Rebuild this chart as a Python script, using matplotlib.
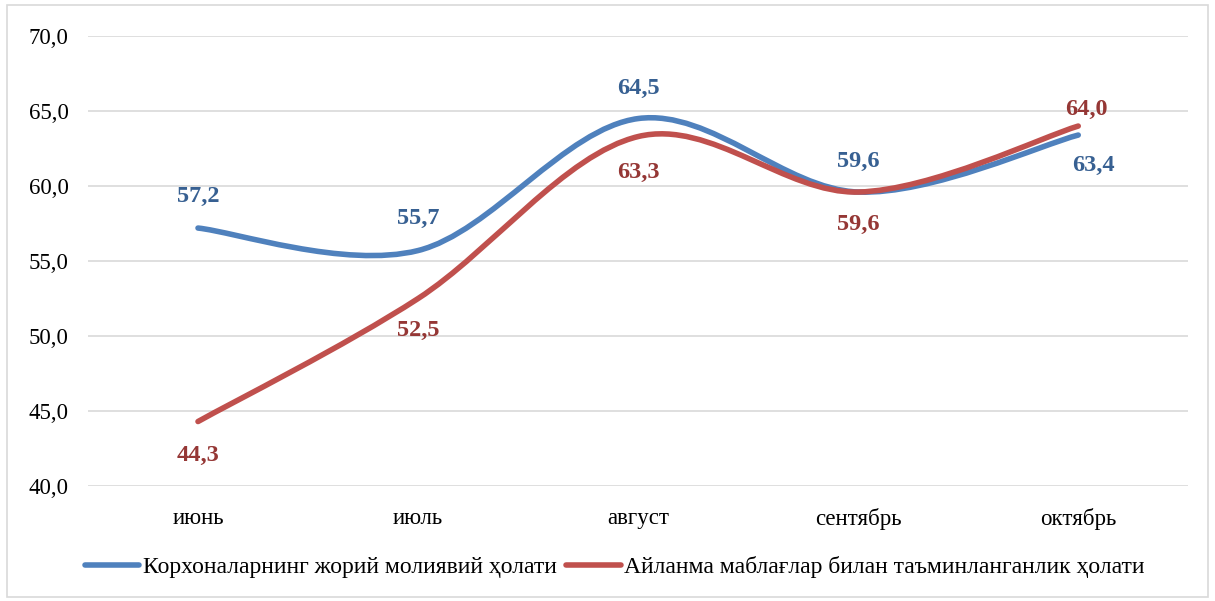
import matplotlib
matplotlib.use("Agg")
import matplotlib.pyplot as plt
from matplotlib.path import Path
from matplotlib.patches import PathPatch, Rectangle
from matplotlib.lines import Line2D
import numpy as np

# ойлар ва қийматлар
oylar = ["июнь", "июль", "август", "сентябрь", "октябрь"]
joriy = [57.2, 55.7, 64.5, 59.6, 63.4]
aylanma = [44.3, 52.5, 63.3, 59.6, 64.0]
nomlar = ["Корхоналарнинг жорий молиявий ҳолати",
          "Айланма маблағлар билан таъминланганлик ҳолати"]

plt.rcParams['font.family'] = ['Liberation Serif', 'DejaVu Serif']

fig = plt.figure(figsize=(12.15, 6.01), dpi=100)
ax = fig.add_axes([0.0724, 0.1913, 0.9056, 0.7487])

# ташқи рамка
fig.patches.append(Rectangle((0.006, 0.006), 0.988, 0.985, transform=fig.transFigure,
                             fill=False, edgecolor='#D9D9D9', linewidth=1.2))


def silliq_chiziq(ax, y, rang):
    # Excel usulidagi silliq chiziq (Bezier)
    x = np.arange(len(y), dtype=float)
    y = np.asarray(y, dtype=float)
    P = np.column_stack([x, y])
    n = len(P)
    verts = [P[0]]
    codes = [Path.MOVETO]
    for i in range(n - 1):
        p0 = P[i - 1] if i > 0 else P[i]
        p1 = P[i]
        p2 = P[i + 1]
        p3 = P[i + 2] if i + 2 < n else P[i + 1]
        c1 = p1 + (p2 - p0) / 6.0
        c2 = p2 - (p3 - p1) / 6.0
        verts += [c1, c2, p2]
        codes += [Path.CURVE4] * 3
    patch = PathPatch(Path(verts, codes), facecolor='none', edgecolor=rang,
                      linewidth=4.0, capstyle='round', joinstyle='round', zorder=3)
    ax.add_patch(patch)


kok = '#4F81BD'
qizil = '#C0504D'
silliq_chiziq(ax, joriy, kok)
silliq_chiziq(ax, aylanma, qizil)

# ёрлиқлар (силжиш пикселда)
kok_joy = [(0, 32), (0, 32), (0, 30), (0, 31), (15, -30)]
qizil_joy = [(0, -34), (0, -32), (0, -36), (0, -32), (8, 17)]
for i in range(len(oylar)):
    ax.annotate(f"{joriy[i]:.1f}".replace('.', ','), (i, joriy[i]),
                xytext=(kok_joy[i][0] * 0.72, kok_joy[i][1] * 0.72),
                textcoords='offset points',
                ha='center', va='center', fontsize=17.5, fontweight='bold',
                color='#376092', zorder=4)
    ax.annotate(f"{aylanma[i]:.1f}".replace('.', ','), (i, aylanma[i]),
                xytext=(qizil_joy[i][0] * 0.72, qizil_joy[i][1] * 0.72),
                textcoords='offset points',
                ha='center', va='center', fontsize=17.5, fontweight='bold',
                color='#953735', zorder=4)

ax.set_xlim(-0.5, len(oylar) - 0.5)
ax.set_ylim(40, 70)
ax.set_yticks(np.arange(40, 71, 5))
ax.set_yticklabels([f"{v:.1f}".replace('.', ',') for v in np.arange(40, 71, 5)])
ax.set_xticks(range(len(oylar)))
ax.set_xticklabels(oylar)
ax.tick_params(length=0, labelsize=16.5, colors='black')
ax.tick_params(axis='y', pad=14)
ax.tick_params(axis='x', pad=16)
ax.grid(axis='y', color='#D9D9D9', linewidth=1.2)
ax.set_axisbelow(True)
for s in ax.spines.values():
    s.set_visible(False)

handles = [Line2D([], [], color=kok, linewidth=4.0, solid_capstyle='round'),
           Line2D([], [], color=qizil, linewidth=4.0, solid_capstyle='round')]
fig.legend(handles, nomlar, loc='center', bbox_to_anchor=(0.506, 0.056), ncol=2,
           frameon=False, fontsize=17, handlelength=2.3, handletextpad=0.15,
           columnspacing=0.4)

fig.savefig("out.png", dpi=100)
